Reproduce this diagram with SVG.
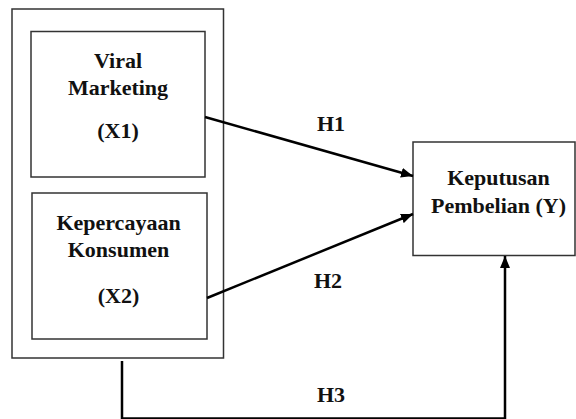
<svg xmlns="http://www.w3.org/2000/svg" width="576" height="419" viewBox="0 0 576 419">
<style>
.box{fill:#fff;stroke:#333;stroke-width:1.5}
.t{font-family:"Liberation Serif","Times New Roman",serif;font-weight:bold;font-size:22px;fill:#111;text-anchor:middle}
.c{fill:none;stroke:#000;stroke-width:2.5}
</style>
<defs>
<marker id="ah" markerWidth="12" markerHeight="10" refX="12" refY="5" orient="auto" markerUnits="userSpaceOnUse">
<path d="M0,0 L12,5 L0,10 Z" fill="#000"/>
</marker>
</defs>
<rect width="576" height="419" fill="#fff"/>
<g id="group-x">
<rect class="box" x="12" y="9" width="211.5" height="349"/>
</g>
<g id="node-x1">
<rect class="box" x="31" y="31.5" width="174" height="145.5"/>
<text class="t" x="118" y="68">Viral</text>
<text class="t" x="118" y="95">Marketing</text>
<text class="t" x="118" y="138">(X1)</text>
</g>
<g id="node-x2">
<rect class="box" x="32" y="193" width="175" height="146"/>
<text class="t" x="118.5" y="230">Kepercayaan</text>
<text class="t" x="118.5" y="257">Konsumen</text>
<text class="t" x="118.5" y="303">(X2)</text>
</g>
<g id="node-y">
<rect class="box" x="413" y="142" width="162" height="113.5"/>
<text class="t" x="498.5" y="185">Keputusan</text>
<text class="t" x="498.5" y="213">Pembelian (Y)</text>
</g>
<g id="connectors">
<line class="c" x1="205" y1="117" x2="413" y2="176" marker-end="url(#ah)"/>
<line class="c" x1="207" y1="298" x2="413" y2="214" marker-end="url(#ah)"/>
<path class="c" d="M122,361 V418.5 H505 V256" marker-end="url(#ah)"/>
<text class="t" x="331" y="131">H1</text>
<text class="t" x="328" y="288">H2</text>
<text class="t" x="331" y="402">H3</text>
</g>
</svg>
